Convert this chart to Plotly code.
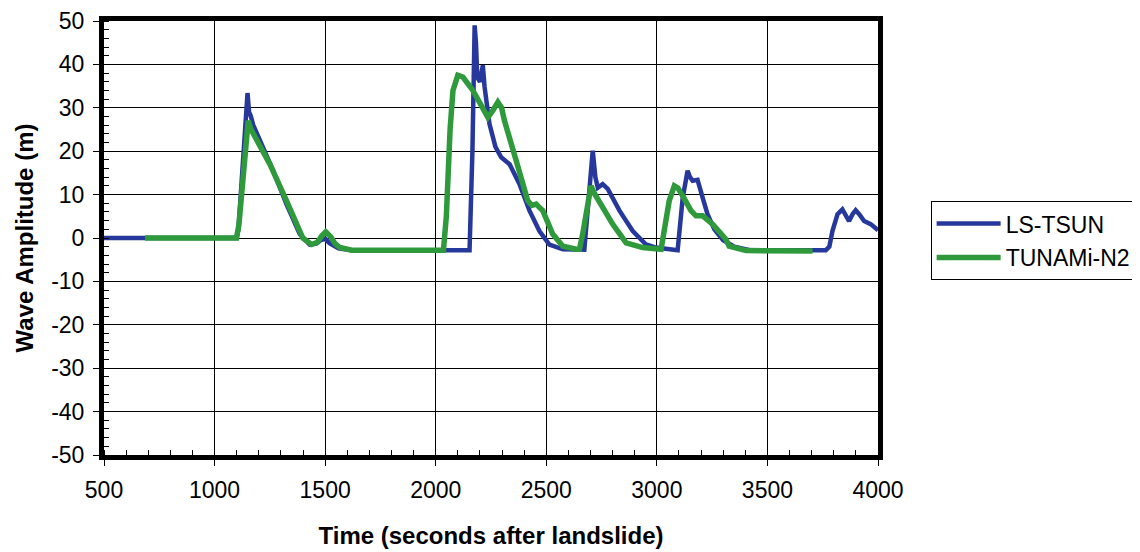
import plotly.graph_objects as go

# LS-TSUN series (time in s, amplitude in m)
ls_t = [500, 1100, 1108, 1140, 1149, 1156, 1163, 1175, 1265, 1325, 1385, 1430, 1460, 1480,
        1500, 1520, 1560, 1620, 2153, 2166, 2176, 2182, 2188, 2200, 2213, 2221, 2243, 2270,
        2296, 2334, 2379, 2424, 2469, 2514, 2575, 2672, 2695, 2710, 2722, 2733, 2755, 2778,
        2831, 2891, 2951, 2996, 3094, 3105, 3117, 3139, 3150, 3162, 3184, 3207, 3229, 3260,
        3300, 3350, 3420, 3764, 3780, 3794, 3817, 3839, 3855, 3869, 3885, 3899, 3915, 3937,
        3967, 3990, 4000]
ls_v = [0, 0, 2, 28, 33.4, 29, 28.2, 26, 15.5, 7.8, 0.9, -1.5, -1.3, -0.5,
        -0.2, -1.2, -2.4, -2.8, -2.8, 20, 49, 45, 37, 36, 39.8, 34.8, 26.3, 21,
        18.6, 17, 12.4, 6.3, 1.6, -1.5, -2.6, -2.7, 13, 20.1, 14, 11.6, 12.4, 11.3,
        6.3, 1.6, -1.5, -2.2, -2.8, 2, 9.3, 15.5, 14, 13.2, 13.4, 9.3, 5.5, 2,
        -0.5, -2, -2.8, -2.8, -2, 1.6, 5.5, 6.6, 5, 3.9, 5.5, 6.4, 5.5, 3.9,
        3.2, 2, 1.8]

# TUNAMi-N2 series
tn_t = [685, 1099, 1110, 1140, 1152, 1165, 1250, 1325, 1399, 1438, 1465, 1485, 1503, 1525,
        1545, 1566, 1620, 2035, 2048, 2065, 2078, 2100, 2123, 2168, 2200, 2236, 2260, 2281,
        2298, 2311, 2364, 2416, 2435, 2454, 2470, 2484, 2529, 2575, 2635, 2650, 2665, 2685,
        2702, 2715, 2740, 2800, 2861, 2936, 3019, 3041, 3056, 3079, 3095, 3117, 3154, 3177,
        3207, 3252, 3282, 3312, 3327, 3403, 3704]
tn_v = [0, 0, 3, 22, 27, 25, 17, 8.6, 0, -1.5, -1, 0.5, 1.4, 0.3,
        -1.3, -2.2, -2.8, -2.8, 5, 25, 34, 37.5, 37.1, 34, 31, 27.8, 29.5, 31.3,
        30, 27, 17.8, 8.6, 7.5, 7.8, 7, 6.3, 0.9, -1.9, -2.6, -2.6, 1, 8,
        12, 10.5, 8.2, 3.2, -1.1, -2.2, -2.6, 3.9, 8.6, 12, 11.5, 9.7, 6.3, 5.1,
        5.1, 3.2, 1.2, -0.3, -1.9, -2.9, -3.0]

x_ticks = [500, 1000, 1500, 2000, 2500, 3000, 3500, 4000]
x_tick_labels = ["500", "1000", "1500", "2000", "2500", "3000", "3500", "4000"]
y_ticks = [50, 40, 30, 20, 10, 0, -10, -20, -30, -40, -50]
y_tick_labels = ["50", "40", "30", "20", "10", "0", "-10", "-20", "-30", "-40", "-50"]

FONT = "Liberation Sans, Arial, sans-serif"

fig = go.Figure()
fig.add_trace(go.Scatter(x=ls_t, y=ls_v, mode="lines", name="LS-TSUN", legendgroup="a",
                         line=dict(color="#26389C", width=4.5)))
fig.add_trace(go.Scatter(x=tn_t, y=tn_v, mode="lines", name="TUNAMi-N2", legendgroup="b",
                         line=dict(color="#2E9A3C", width=5.5)))

axis_common = dict(
    showline=True, linecolor="black", linewidth=5, mirror=True,
    showgrid=True, gridcolor="black", gridwidth=1,
    ticks="outside", ticklen=6, tickcolor="black", tickwidth=1,
    tickfont=dict(family=FONT, size=23, color="black"),
    zeroline=False, automargin=False,
)

fig.update_xaxes(**axis_common, range=[500, 4000], tickvals=x_ticks, ticktext=x_tick_labels,
                 ticklabelstandoff=4,
                 minor=dict(ticks="inside", dtick=100, ticklen=5, tickcolor="black", showgrid=False),
                 title=dict(text="<b>Time (seconds after landslide)</b>",
                            font=dict(family=FONT, size=24, color="black"), standoff=27))
fig.update_yaxes(**axis_common, range=[-50, 50], tickvals=y_ticks, ticktext=y_tick_labels,
                 ticklabelstandoff=4,
                 minor=dict(ticks="inside", dtick=2, ticklen=5, tickcolor="black", showgrid=False),
                 title=dict(text="<b>Wave Amplitude (m)</b>",
                            font=dict(family=FONT, size=24, color="black"), standoff=12))

fig.update_layout(
    width=1140, height=552,
    margin=dict(l=96, r=268, t=13, b=105),
    paper_bgcolor="white", plot_bgcolor="white",
    legend=dict(x=1.068, y=0.585, xanchor="left", yanchor="top",
                bordercolor="black", borderwidth=1, bgcolor="white",
                font=dict(family=FONT, size=23, color="black"),
                itemwidth=64, tracegroupgap=1),
    showlegend=True,
)

fig.write_html("out.html")
